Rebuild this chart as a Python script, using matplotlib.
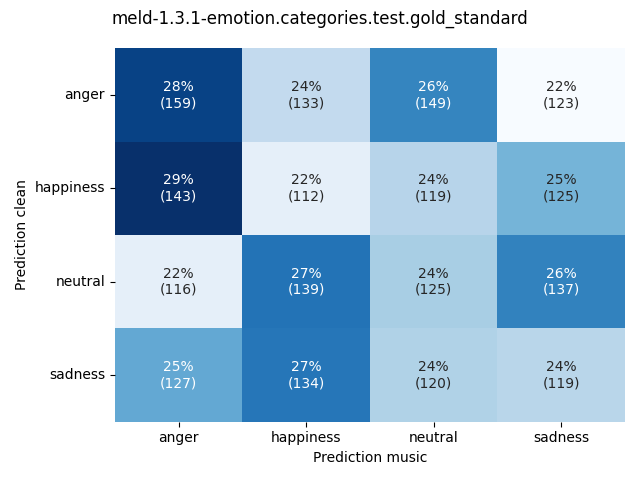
import numpy as np
import matplotlib
matplotlib.use("Agg")
import matplotlib.pyplot as plt
import seaborn as sns

labels = ["anger", "happiness", "neutral", "sadness"]
counts = np.array([
    [159, 133, 149, 123],
    [143, 112, 119, 125],
    [116, 139, 125, 137],
    [127, 134, 120, 119],
])

# row-normalised share drives the colour
share = counts / counts.sum(axis=1, keepdims=True)
annot = np.array([[f"{share[i, j] * 100:.0f}%\n({counts[i, j]})" for j in range(4)] for i in range(4)])

fig, ax = plt.subplots(figsize=(6.4, 4.8), dpi=100)
sns.heatmap(share, annot=annot, fmt="", cmap="Blues", cbar=False,
            xticklabels=labels, yticklabels=labels, ax=ax)
ax.set_xlabel("Prediction music")
ax.set_ylabel("Prediction clean")
fig.suptitle("meld-1.3.1-emotion.categories.test.gold_standard")
plt.yticks(rotation=0)
plt.tight_layout()
plt.savefig("out.png")
